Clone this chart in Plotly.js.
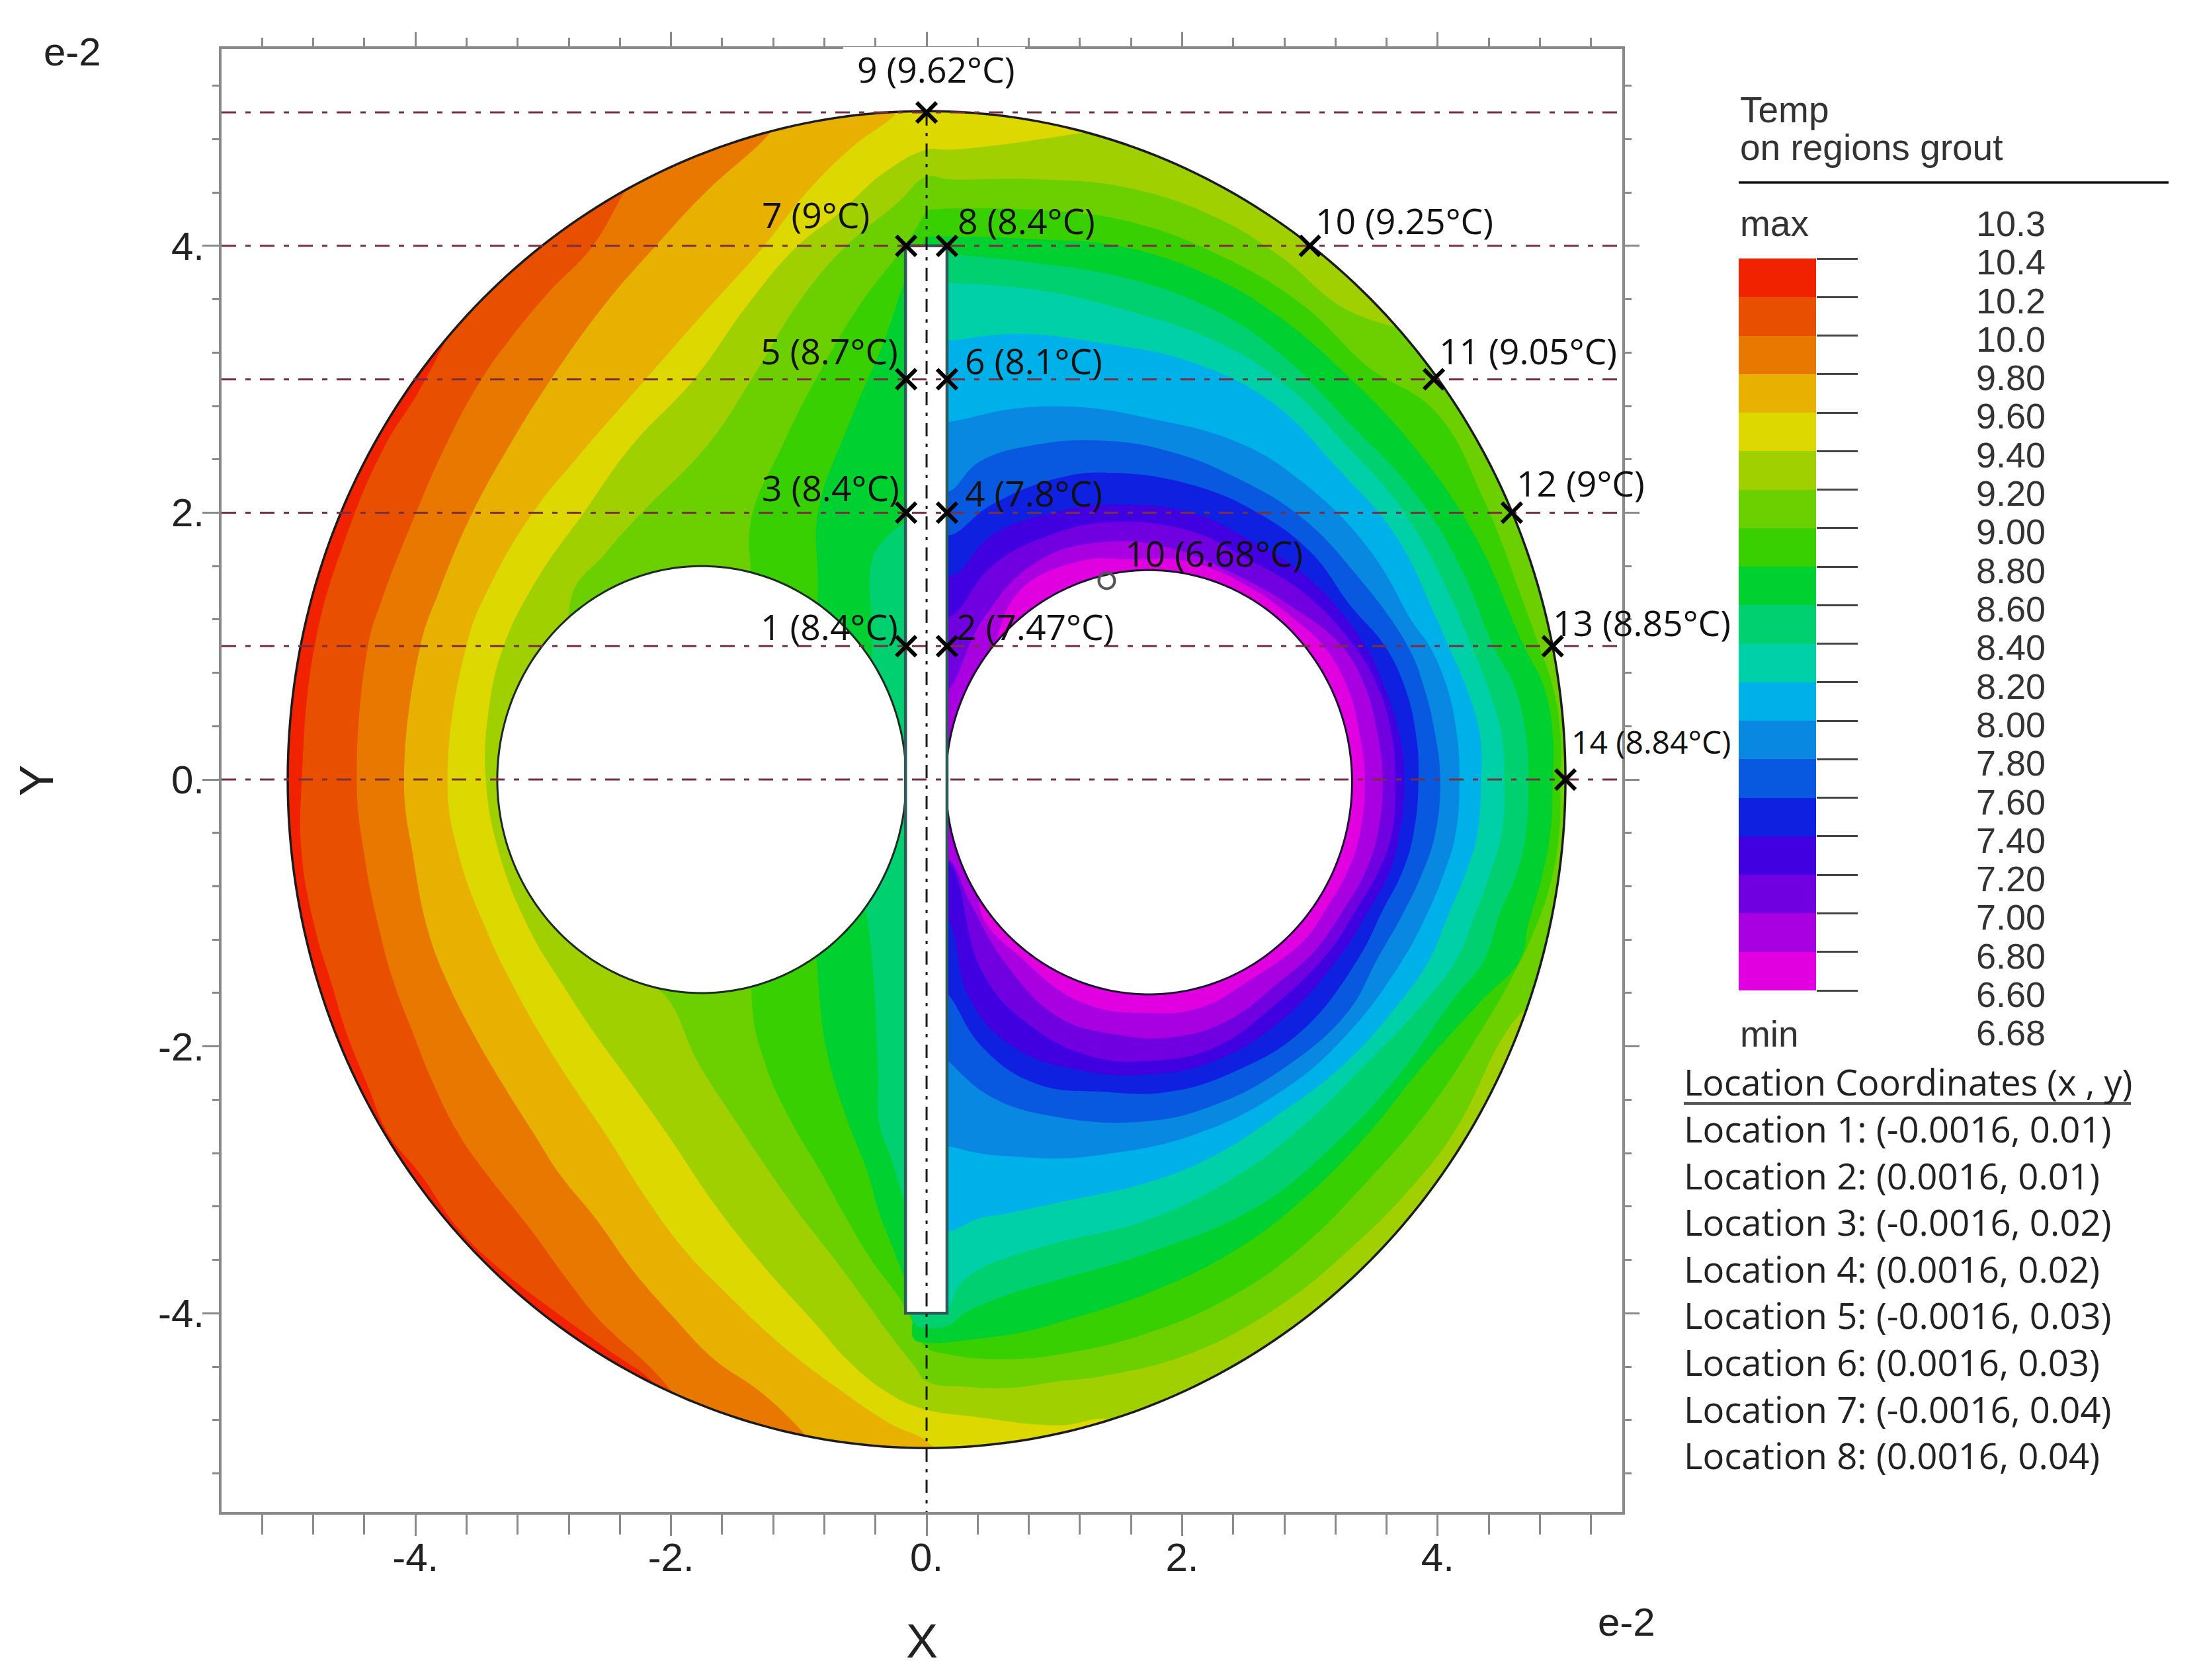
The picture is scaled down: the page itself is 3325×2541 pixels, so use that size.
<!DOCTYPE html>
<html><head><meta charset="utf-8">
<script src="https://cdn.plot.ly/plotly-3.0.1.min.js"></script>
<style>html,body{margin:0;padding:0;background:#fff}#c{width:3325px;height:2541px}</style>
</head><body><div id="c"></div>
<script>
// ---- data (isotherm boundaries in units of 1e-2, hottest to coldest) ----
const bandColors=['#f02200','#e85000','#e87800','#e8b000','#dcd800','#a0d000','#6cd000','#38d000','#00d030','#00d070','#00d0a8','#00b0e8','#0888e0','#0858e0','#1020e0','#4000e0','#7000e0','#a800e0','#e000e0'];
const legendLabels=['10.3','10.4','10.2','10.0','9.80','9.60','9.40','9.20','9.00','8.80','8.60','8.40','8.20','8.00','7.80','7.60','7.40','7.20','7.00','6.80','6.60','6.68'];
const locationLines=['Location 1: (-0.0016, 0.01)','Location 2: (0.0016, 0.01)','Location 3: (-0.0016, 0.02)','Location 4: (0.0016, 0.02)','Location 5: (-0.0016, 0.03)','Location 6: (0.0016, 0.03)','Location 7: (-0.0016, 0.04)','Location 8: (0.0016, 0.04)'];
const probeNames=['1','2','3','4','5','6','7','8','9','10','11','12','13','14'];
const probeTemps=['8.4','7.47','8.4','7.8','8.7','8.1','9','8.4','9.62','9.25','9.05','9','8.85','8.84'];
const probeX=[-0.16,0.16,-0.16,0.16,-0.16,0.16,-0.16,0.16,0,3,3.97,4.58,4.9,5];
const probeY=[1,1,2,2,3,3,4,4,5,4,3,2,1,0];
const minProbeX=[1.41],minProbeY=[1.49],minProbeTemp='6.68';
const gridY=[5,4,3,2,1,0];
const tickV=[-4,-2,0,2,4];
const tickT=['-4.','-2.','0.','2.','4.'];

const B1x=[-3.6,-3.98,-4.24,-4.54,-4.79,-4.89,-4.89,-4.78,-4.66,-4.54,-4.38,-4.21,-3.96,-3.66,-3.3,-2.89,-2.5,-2.13,-2.0];
const B1y=[3.6,2.9,2.5,1.83,1.0,0,-0.57,-1.14,-1.52,-1.9,-2.28,-2.66,-2.96,-3.37,-3.7,-4.0,-4.27,-4.53,-4.75];
const B2x=[-2.1,-2.34,-2.62,-2.95,-3.27,-3.49,-3.72,-4.0,-4.27,-4.37,-4.46,-4.4,-4.28,-4.17,-4.02,-3.86,-3.66,-3.44,-3.1,-2.85,-2.59,-2.41,-2.2,-1.99,-1.8];
const B2y=[4.75,4.44,3.99,3.66,3.29,2.99,2.59,1.99,1.33,1.01,0,-0.57,-1.14,-1.52,-1.9,-2.28,-2.66,-2.96,-3.37,-3.7,-4.02,-4.19,-4.37,-4.59,-4.85];
const B3x=[-1.1,-1.27,-1.71,-2.13,-2.52,-2.94,-3.23,-3.56,-3.82,-3.96,-4.09,-4.02,-3.9,-3.75,-3.55,-3.32,-3.07,-2.87,-2.59,-2.29,-1.99,-1.67,-1.3,-0.97,-0.8];
const B3y=[5.0,4.8,4.42,3.99,3.56,3.0,2.56,1.99,1.4,1.01,0,-0.57,-1.14,-1.52,-1.9,-2.28,-2.66,-2.96,-3.29,-3.69,-4.02,-4.34,-4.59,-4.89,-5.1];
const B4x=[-0.1,-0.26,-0.57,-0.95,-1.28,-1.75,-2.2,-2.72,-3.09,-3.43,-3.6,-3.75,-3.66,-3.44,-3.25,-3.03,-2.78,-2.51,-2.2,-1.9,-1.6,-1.11,-0.7,-0.28,0,0.15];
const B4y=[5.15,4.97,4.75,4.39,3.99,3.49,3.0,2.43,1.99,1.43,1.01,0,-0.57,-1.14,-1.52,-1.9,-2.28,-2.66,-3.13,-3.52,-3.82,-4.26,-4.56,-4.83,-4.96,-5.15];
const B5x=[1.38,1.03,0.51,0.17,0,-0.33,-0.68,-1.02,-1.4,-1.82,-2.31,-2.69,-3.03,-3.31,-3.43,-3.45,-3.34,-3.1,-2.86,-2.6,-2.31,-2.02,-1.67,-1.3,-0.86,-0.63,-0.33,-0.05,0.41,1.03,1.45,1.75];
const B5y=[4.87,4.82,4.75,4.72,4.72,4.55,4.25,3.99,3.56,3.0,2.5,1.99,1.53,1.0,0.5,0,-0.57,-1.14,-1.52,-1.9,-2.28,-2.67,-3.17,-3.62,-4.09,-4.34,-4.58,-4.71,-4.78,-4.84,-4.8,-5.0];
const B6x=[3.84,3.29,2.77,2.25,1.55,0.86,0.17,0,-0.23,-0.64,-0.99,-1.37,-1.72,-2.24,-2.51,-2.79,-2.5,-2.3,-2.02,-1.8,-1.48,-1.28,-1.0,-0.7,-0.47,-0.28,-0.1,0,0.3,0.64,1.03,1.38,2.07,2.77,3.29,3.81,4.15,4.53,4.75,5.2,5.6];
const B6y=[3.36,3.52,3.92,4.22,4.44,4.5,4.5,4.52,4.32,3.99,3.59,3.0,2.5,1.99,1.7,1.33,0,-1.4,-1.65,-2.1,-2.58,-2.87,-3.25,-3.62,-3.92,-4.17,-4.39,-4.51,-4.55,-4.56,-4.51,-4.47,-4.3,-3.94,-3.54,-3.04,-2.61,-1.9,-1.65,-1.2,1.5];
const B7x=[0,-0.17,-0.5,-0.85,-1.13,-1.37,-1.37,-1.2,-1.37,-1.27,-1.05,-0.84,-0.65,-0.44,-0.19,-0.06,0,0.18,0.41,0.76,1.03,1.73,2.43,2.94,3.46,3.91,4.36,4.6,4.77,4.88,4.95,4.96,4.96,4.9,4.79,4.67,4.36,3.98,3.46,2.94,2.25,1.55,0.86,0.17];
const B7y=[4.27,4.0,3.59,3.03,2.5,1.96,1.5,0,-1.61,-2.11,-2.58,-2.92,-3.25,-3.59,-3.92,-4.17,-4.26,-4.31,-4.34,-4.34,-4.31,-4.15,-3.85,-3.5,-3.0,-2.5,-1.85,-1.45,-1.1,-0.79,-0.41,0,0.34,0.7,1.01,1.33,2.1,2.76,3.09,3.56,3.95,4.19,4.27,4.28];
const B8x=[0,-0.16,-0.33,-0.61,-0.85,-0.85,-0.9,-0.85,-0.78,-0.61,-0.47,-0.37,-0.28,-0.18,-0.1,-0.1,0,0.41,0.76,1.03,1.73,2.43,2.94,3.46,3.88,4.35,4.64,4.71,4.81,4.88,4.9,4.9,4.83,4.67,4.29,3.81,3.29,2.77,2.25,1.55,0.86,0.17];
const B8y=[4.07,3.76,3.29,2.66,2.0,1.43,0,-1.48,-2.04,-2.58,-2.92,-3.25,-3.47,-3.72,-3.9,-4.19,-4.22,-4.19,-4.14,-4.07,-3.85,-3.52,-3.15,-2.65,-2.15,-1.65,-1.36,-1.08,-0.75,-0.41,0,0.34,0.7,1.01,1.83,2.5,3.03,3.46,3.76,3.99,4.05,4.07];
const B9x=[0.05,0.17,0.86,1.55,2.25,2.77,3.29,3.81,4.19,4.43,4.6,4.69,4.71,4.69,4.62,4.48,4.36,4.12,3.7,3.22,2.59,1.73,1.03,0.64,0.3,0.18,0,-0.1,-0.12,-0.12,-0.18,-0.28,-0.37,-0.38,-0.43,-0.6,-0.43,-0.43,-0.33,-0.17,-0.1];
const B9y=[3.95,3.94,3.87,3.76,3.52,3.19,2.69,2.16,1.57,1.01,0.7,0.34,0,-0.41,-0.7,-1.02,-1.36,-1.65,-2.21,-2.71,-3.2,-3.55,-3.75,-3.86,-4.0,-4.09,-4.11,-4.07,-3.9,-3.3,-3.15,-2.83,-2.58,-2.21,-1.31,0,0.9,1.63,1.8,1.93,2.0];
const B10x=[0.05,0.17,0.86,1.55,2.25,2.77,3.29,3.74,4.12,4.26,4.39,4.5,4.52,4.5,4.41,4.29,4.14,3.85,3.46,2.94,2.43,1.73,1.03,0.64,0.41,0.25,0.16,0.1];
const B10y=[3.72,3.72,3.67,3.52,3.29,2.99,2.5,2.0,1.33,1.01,0.7,0.34,0,-0.41,-0.7,-1.02,-1.36,-1.72,-2.11,-2.6,-2.97,-3.3,-3.47,-3.58,-3.67,-3.8,-3.97,-3.95];
const B11x=[0.05,0.17,0.69,1.38,2.07,2.7,3.22,3.67,3.98,4.08,4.22,4.33,4.34,4.31,4.22,4.08,3.93,3.67,3.25,2.77,2.25,1.73,1.03,0.64,0.41,0.17,0.05];
const B11y=[3.29,3.29,3.34,3.27,3.13,2.83,2.33,1.83,1.23,1.01,0.7,0.34,0,-0.41,-0.7,-1.02,-1.36,-1.71,-2.15,-2.5,-2.82,-3.02,-3.17,-3.25,-3.29,-3.39,-3.39];
const B12x=[0.05,0.17,0.69,1.21,1.73,2.43,2.94,3.46,3.81,3.93,4.07,4.15,4.17,4.14,4.05,3.91,3.72,3.29,2.77,2.07,1.38,1.03,0.76,0.41,0.17,0.05];
const B12y=[2.68,2.68,2.78,2.79,2.71,2.53,2.23,1.73,1.17,1.01,0.7,0.34,0,-0.41,-0.7,-1.02,-1.36,-1.91,-2.34,-2.67,-2.81,-2.84,-2.83,-2.8,-2.75,-2.75];
const B13x=[0.05,0.17,0.41,0.86,1.38,1.9,2.43,2.94,3.35,3.76,3.89,3.98,4.02,3.98,3.88,3.72,3.53,3.29,2.77,2.25,1.73,1.03,0.51,0.17,0.05];
const B13y=[2.22,2.16,2.38,2.51,2.54,2.46,2.26,1.96,1.55,1.01,0.7,0.34,0,-0.41,-0.7,-1.02,-1.34,-1.75,-2.18,-2.44,-2.56,-2.53,-2.38,-2.11,-2.0];
const B14x=[0.05,0.17,0.51,1.03,1.45,2.07,2.59,3.01,3.32,3.58,3.74,3.83,3.85,3.81,3.72,3.57,3.38,2.94,2.43,1.9,1.38,0.86,0.44,0.17,0.05];
const B14y=[1.9,1.83,2.06,2.26,2.3,2.21,2.0,1.7,1.3,1.01,0.7,0.34,0,-0.41,-0.7,-0.98,-1.34,-1.88,-2.18,-2.34,-2.34,-2.28,-2.01,-1.61,-1.5];
const B15x=[0.05,0.2,0.51,1.03,1.45,2.07,2.52,3.0,3.43,3.58,3.7,3.74,3.7,3.62,3.46,3.22,2.77,2.25,1.73,1.21,0.69,0.34,0.17,0.05];
const B15y=[1.6,1.53,1.83,2.01,2.06,2.0,1.8,1.5,1.01,0.7,0.34,0,-0.41,-0.7,-0.98,-1.34,-1.81,-2.11,-2.21,-2.18,-2.01,-1.65,-1.05,-0.95];
const B16x=[0.05,0.2,0.51,0.96,1.45,2.07,2.52,2.95,3.34,3.53,3.64,3.67,3.64,3.53,3.36,3.14,2.7,2.25,1.73,1.31,0.82,0.44,0.2,0.05];
const B16y=[1.2,1.23,1.6,1.83,1.93,1.86,1.65,1.4,1.01,0.7,0.34,0,-0.41,-0.7,-0.98,-1.3,-1.71,-2.01,-2.11,-2.08,-1.85,-1.45,-0.65,-0.5];
const B17x=[0.05,0.17,0.44,0.86,1.38,1.93,2.43,2.85,3.24,3.43,3.53,3.57,3.53,3.43,3.26,3.05,2.77,2.35,1.93,1.48,1.03,0.62,0.34,0.17,0.05];
const B17y=[0.6,0.67,1.2,1.63,1.78,1.73,1.53,1.3,1.01,0.7,0.34,0,-0.41,-0.7,-0.98,-1.27,-1.51,-1.81,-1.93,-1.91,-1.78,-1.38,-0.92,-0.6,-0.6];
const B18x=[0.5,0.69,1.17,1.62,2.07,2.55,2.88,3.1,3.29,3.39,3.43,3.39,3.29,3.12,2.95,2.52,2.14,1.73,1.24,0.79,0.41,0.8];
const B18y=[0.7,1.37,1.63,1.65,1.63,1.43,1.2,1.01,0.7,0.34,0,-0.41,-0.7,-0.98,-1.21,-1.51,-1.71,-1.75,-1.68,-1.38,-0.92,-0.3];

// ---- page geometry ----
const W=3325,H=2541;
const px=v=>v/W, py=v=>1-v/H;
const frame={l:335,r:2453,t:74,b:2287};
const xRange=[-5.518,5.445], yRange=[-5.49,5.476];
const dark='#222', frameGray='#8a8a8a';
const labelFont='"Open Sans", sans-serif', axisFont='"Liberation Sans", Arial, sans-serif';

// geometry of the section: outer wall, two pipes, slot
const wall=(cx,cy,rx,ry)=>{const x=[],y=[];for(let i=0;i<=360;i++){const a=(180-i)*Math.PI/180;x.push(cx+rx*Math.cos(a));y.push(cy+ry*Math.sin(a));}return {x,y};};
const outer=wall(0,0,5,5.01), pipeL=wall(-1.76,0,1.6,1.6), pipeR=wall(1.74,-0.02,1.59,1.59);
const slotX=[-0.165,0.16,0.16,-0.165,-0.165], slotY=[4,4,-4,-4,4];

const poly=(x,y,color)=>({type:'scatter',mode:'lines',x,y,fill:'toself',fillcolor:color,hoverinfo:'skip',
  line:{width:0,shape:'spline',smoothing:1.2,simplify:false},showlegend:false});
const openBand=(x,y,color)=>{const n=x.length-1;return poly(x.concat([x[n],7,7,x[0]]),y.concat([-7,-7,7,7]),color);};
const solid=(x,y,fill,lineColor,w)=>({type:'scatter',mode:'lines',x,y,fill:fill?'toself':'none',fillcolor:fill||undefined,hoverinfo:'skip',
  line:{color:lineColor,width:w,simplify:false},showlegend:false});

const traces=[];
traces.push(solid([-7,7,7,-7,-7],[-7,-7,7,7,-7],bandColors[0],bandColors[0],0));
[[B1x,B1y],[B2x,B2y],[B3x,B3y],[B4x,B4y],[B5x,B5y],[B6x,B6y]].forEach((b,i)=>traces.push(openBand(b[0],b[1],bandColors[i+1])));
[[B7x,B7y],[B8x,B8y],[B9x,B9y],[B10x,B10y],[B11x,B11y],[B12x,B12y],[B13x,B13y],[B14x,B14y],[B15x,B15y],[B16x,B16y],[B17x,B17y],[B18x,B18y]].forEach((b,i)=>traces.push(poly(b[0],b[1],bandColors[i+7])));
// white surround: rectangle wound one way, wall wound the other, joined by a keyhole at the left
traces.push(solid([-8,-8,8,8,-8,-8].concat(outer.x).concat([-8]),
                  [0,-8,-8,8,8,0].concat(outer.y).concat([0]),'#ffffff','rgba(0,0,0,0)',0));
traces.push(solid(pipeL.x,pipeL.y,'#ffffff','#1c2a22',3));
traces.push(solid(pipeR.x,pipeR.y,'#ffffff','#1a1030',3));
traces.push(solid(slotX,slotY,'#ffffff','#2f5a5a',4.5));
traces.push(solid(outer.x,outer.y,null,'#1c1c1c',3.5));
gridY.forEach(v=>traces.push({type:'scatter',mode:'lines',x:[xRange[0],xRange[1]],y:[v,v],hoverinfo:'skip',showlegend:false,
  line:{color:'#7a2f40',width:3,dash:'22px,14px,8px,14px'}}));
traces.push({type:'scatter',mode:'lines',x:[0,0],y:[5,yRange[0]],hoverinfo:'skip',showlegend:false,
  line:{color:'#1a1a1a',width:3,dash:'20px,11px,5px,11px'}});
traces.push({type:'scatter',mode:'markers',x:probeX,y:probeY,hoverinfo:'skip',showlegend:false,
  marker:{symbol:'x-thin-open',size:30,color:'#000',line:{color:'#000',width:6}}});
traces.push({type:'scatter',mode:'markers',x:minProbeX,y:minProbeY,hoverinfo:'skip',showlegend:false,
  marker:{symbol:'circle-open',size:24,color:'#555',line:{color:'#555',width:4}}});
// top/right frame axes
traces.push({type:'scatter',mode:'markers',x:[0],y:[0],xaxis:'x3',yaxis:'y3',marker:{size:1,opacity:0},hoverinfo:'skip',showlegend:false});
// legend colour strip
traces.push({type:'bar',x:bandColors.map(()=>0),y:bandColors.map(()=>1),base:bandColors.map((c,i)=>bandColors.length-1-i),width:1,
  marker:{color:bandColors,line:{width:0}},xaxis:'x2',yaxis:'y2',hoverinfo:'skip',showlegend:false});

const tAnn=(text,x,y,o)=>Object.assign({text,x:px(x),y:py(y),xref:'paper',yref:'paper',showarrow:false,xanchor:'left',yanchor:'middle',
  font:{family:axisFont,size:55,color:'#333'}},o||{});
const probeOffset=[[-222,30],[12,30],[-220,38],[25,30],[-222,43],[25,28],[-220,47],[14,38],[-107,66],[6,38],[6,43],[5,45],[-2,36],[7,58]];
const annotations=[];
probeNames.forEach((n,i)=>annotations.push({text:n+' ('+probeTemps[i]+'°C)',x:probeX[i],y:probeY[i],xref:'x',yref:'y',showarrow:false,
  xanchor:'left',yanchor:'middle',xshift:probeOffset[i][0],yshift:probeOffset[i][1],
  font:{family:labelFont,size:i===13?48:53.5,color:'#111'}}));
annotations.push({text:'10 ('+minProbeTemp+'°C)',x:minProbeX[0],y:minProbeY[0],xref:'x',yref:'y',showarrow:false,xanchor:'left',yanchor:'middle',
  xshift:26,yshift:42,font:{family:labelFont,size:53.5,color:'#111'}});
annotations.push(tAnn('e-2',64,79,{font:{family:axisFont,size:60,color:'#222'}}));
annotations.push(tAnn('e-2',2414,2453,{font:{family:axisFont,size:60,color:'#222'}}));
annotations.push(tAnn('Temp',2629,166));
annotations.push(tAnn('on regions grout',2629,223));
annotations.push(tAnn('max',2629,338));
annotations.push(tAnn('min',2629,1564));
legendLabels.forEach((t,i)=>annotations.push(tAnn(t,3095,338+i*58.3,{xanchor:'right',font:{family:axisFont,size:54,color:'#333'}})));
annotations.push(tAnn('Location Coordinates (x , y)',2544,1636,{font:{family:labelFont,size:54,color:'#222'}}));
locationLines.forEach((t,i)=>annotations.push(tAnn(t,2544,1707+i*70.6,{font:{family:labelFont,size:54.5,color:'#222'}})));

const shapes=[
 {type:'line',xref:'paper',yref:'paper',x0:px(2629),x1:px(3279),y0:py(276),y1:py(276),line:{color:'#111',width:3.5}},
 {type:'line',xref:'paper',yref:'paper',x0:px(2546),x1:px(3222),y0:py(1669),y1:py(1669),line:{color:'#555',width:4}},
 {type:'line',xref:'paper',yref:'paper',x0:px(1275),x1:px(1550),y0:py(frame.t),y1:py(frame.t),line:{color:'#fff',width:6}}
];

const tickCommon={showgrid:false,zeroline:false,showline:true,linecolor:frameGray,linewidth:4,tickcolor:frameGray,tickwidth:3,ticks:'outside'};
const layout={
 width:W,height:H,paper_bgcolor:'#fff',plot_bgcolor:'#fff',margin:{l:0,r:0,t:0,b:0},showlegend:false,bargap:0,
 annotations,shapes,
 xaxis:Object.assign({},tickCommon,{domain:[px(frame.l),px(frame.r)],range:xRange,anchor:'y',tickmode:'array',tickvals:tickV,ticktext:tickT,ticklen:32,ticklabelstandoff:-19,
   tickfont:{family:axisFont,size:60,color:dark},
   minor:{tickmode:'linear',tick0:0,dtick:0.4,ticks:'outside',ticklen:30,tickcolor:frameGray,tickwidth:3,showgrid:false},
   title:{text:'X',font:{family:axisFont,size:72,color:dark},standoff:70}}),
 yaxis:Object.assign({},tickCommon,{domain:[py(frame.b),py(frame.t)],range:yRange,anchor:'x',tickmode:'array',tickvals:tickV,ticktext:tickT,ticklen:25,ticklabelstandoff:-15,
   tickfont:{family:axisFont,size:60,color:dark},
   minor:{tickmode:'linear',tick0:0,dtick:0.4,ticks:'outside',ticklen:10,tickcolor:frameGray,tickwidth:3,showgrid:false},
   title:{text:'Y',font:{family:axisFont,size:72,color:dark},standoff:136}}),
 xaxis3:Object.assign({},tickCommon,{domain:[px(frame.l),px(frame.r)],range:xRange,anchor:'y3',overlaying:'x',side:'top',tickmode:'array',tickvals:tickV,ticklen:22,showticklabels:false,
   minor:{tickmode:'linear',tick0:0,dtick:0.4,ticks:'outside',ticklen:13,tickcolor:frameGray,tickwidth:3,showgrid:false}}),
 yaxis3:Object.assign({},tickCommon,{domain:[py(frame.b),py(frame.t)],range:yRange,anchor:'x3',overlaying:'y',side:'right',tickmode:'array',tickvals:tickV,ticklen:22,showticklabels:false,
   minor:{tickmode:'linear',tick0:0,dtick:0.4,ticks:'outside',ticklen:10,tickcolor:frameGray,tickwidth:3,showgrid:false}}),
 xaxis2:{domain:[px(2629),px(2746)],range:[-0.5,0.5],anchor:'y2',visible:false,fixedrange:true},
 yaxis2:{domain:[py(1498),py(391)],range:[0,bandColors.length],anchor:'x2',side:'right',showgrid:false,zeroline:false,showline:false,
   tickmode:'array',tickvals:bandColors.map((c,i)=>i).concat([bandColors.length]),ticks:'outside',ticklen:62,tickcolor:'#444',tickwidth:3,showticklabels:false}
};
Plotly.newPlot('c',traces,layout,{staticPlot:true,displayModeBar:false});
</script></body></html>
